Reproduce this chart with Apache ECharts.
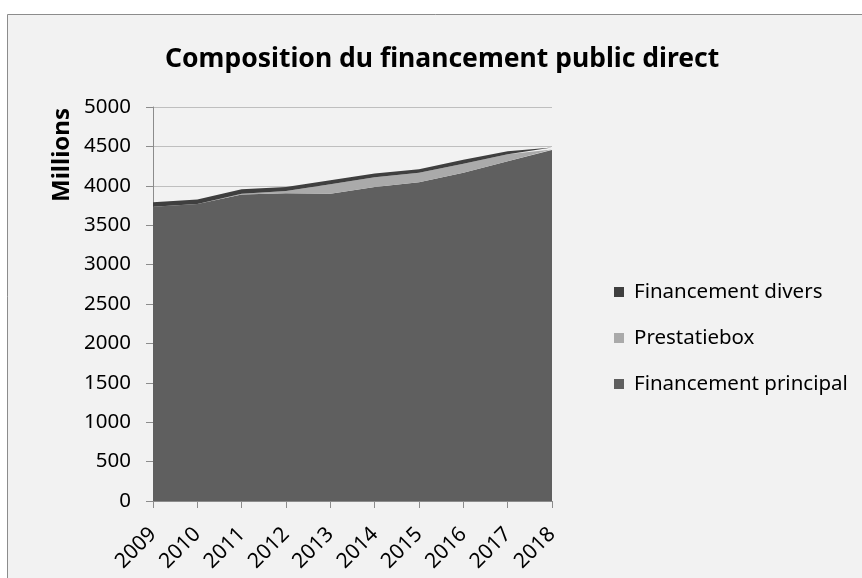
<!DOCTYPE html>
<html>
<head>
<meta charset="utf-8">
<script src="https://cdn.jsdelivr.net/npm/echarts@6/dist/echarts.min.js"></script>
<style>
  html, body { margin: 0; padding: 0; background: #ffffff; }
  #chart { width: 862px; height: 578px; }
</style>
</head>
<body>
<div id="chart"></div>
<script>
// years on the x axis
const years = ['2009', '2010', '2011', '2012', '2013', '2014', '2015', '2016', '2017', '2018'];
// stacked values, millions
const principal = [3735, 3770, 3890, 3905, 3900, 3985, 4045, 4165, 4310, 4455];
const prestatiebox = [0, 0, 10, 30, 120, 125, 120, 115, 90, 5];
const divers = [55, 55, 55, 50, 50, 45, 45, 50, 40, 25];

const colors = ['#5f5f5f', '#aaaaaa', '#3f3f3f'];
const font = 'Noto Sans';

let myChart = echarts.init(document.getElementById('chart'));

let areaSeries = (name, data, color) => ({
  name: name,
  type: 'line',
  stack: 'total',
  data: data,
  showSymbol: false,
  symbol: 'none',
  lineStyle: { width: 0 },
  itemStyle: { color: color },
  areaStyle: { color: color, opacity: 1 }
});

let option = {
  backgroundColor: 'transparent',
  animation: false,
  textStyle: { fontFamily: font },
  title: {
    text: 'Composition du financement public direct',
    left: 160,
    top: 41,
    textStyle: { fontSize: 26.5, fontWeight: 'bold', color: '#000', fontFamily: font }
  },
  graphic: [
    {
      type: 'rect',
      z: -100,
      shape: { x: 7.5, y: 14.5, width: 900, height: 600 },
      style: { fill: '#f2f2f2', stroke: '#8c8c8c', lineWidth: 1 }
    },
    {
      type: 'text',
      x: 62,
      y: 155,
      rotation: Math.PI / 2,
      style: {
        text: 'Millions',
        font: 'bold 24px "Noto Sans"',
        fill: '#000',
        align: 'center',
        verticalAlign: 'middle'
      }
    }
  ],
  legend: {
    orient: 'vertical',
    left: 609,
    top: 275,
    icon: 'rect',
    itemWidth: 10,
    itemHeight: 10,
    itemGap: 22,
    data: ['Financement divers', 'Prestatiebox', 'Financement principal'],
    textStyle: { fontSize: 20.5, color: '#000', lineHeight: 24, padding: [0, 0, 0, 5] }
  },
  grid: {
    left: 153,
    right: 862 - 552,
    top: 107,
    bottom: 578 - 501
  },
  xAxis: {
    type: 'category',
    data: years,
    boundaryGap: false,
    axisLine: { show: true, lineStyle: { color: '#8c8c8c' } },
    axisTick: { show: true, length: 7, lineStyle: { color: '#8c8c8c' } },
    axisLabel: { rotate: 45, fontSize: 21, color: '#000', margin: 30, interval: 0 }
  },
  yAxis: {
    type: 'value',
    min: 0,
    max: 5000,
    interval: 500,
    axisLine: { show: true, lineStyle: { color: '#8c8c8c' } },
    axisTick: { show: true, length: 7, lineStyle: { color: '#8c8c8c' } },
    axisLabel: {
      fontSize: 20.5,
      color: '#000',
      margin: 22,
      formatter: (v) => String(v)
    },
    splitLine: { show: true, lineStyle: { color: '#bfbfbf' } }
  },
  series: [
    areaSeries('Financement principal', principal, colors[0]),
    areaSeries('Prestatiebox', prestatiebox, colors[1]),
    areaSeries('Financement divers', divers, colors[2])
  ]
};

myChart.setOption(option);
</script>
</body>
</html>
